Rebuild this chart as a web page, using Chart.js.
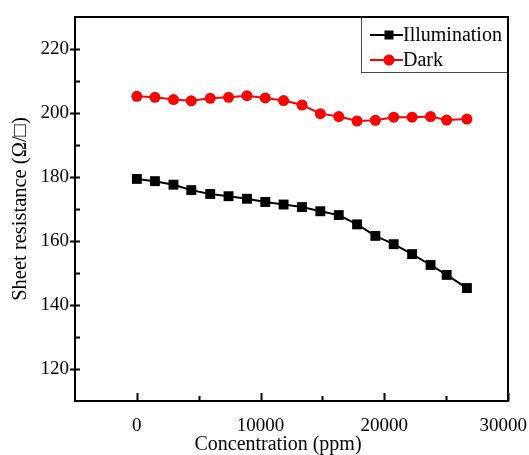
<!DOCTYPE html>
<html lang="en">
<head>
    <meta charset="UTF-8">
    <title>Sheet resistance vs concentration</title>
    <script src="https://cdn.jsdelivr.net/npm/chart.js"></script>
    <style>
        body { margin: 0; background: #fff; overflow: hidden; }
        #wrap { width: 529px; height: 455px; }
        canvas { display: block; }
    </style>
</head>
<body>
    <div id="wrap"><canvas id="resChart" width="529" height="455"></canvas></div>
    <script>
        // concentration (ppm)
        const concentration = [0, 1460, 2960, 4400, 5930, 7410, 8900, 10380, 11860, 13350,
                               14830, 16320, 17800, 19280, 20760, 22250, 23740, 25040, 26680];
        const illumination = [179.4, 178.7, 177.6, 175.9, 174.7, 174.0, 173.2, 172.2, 171.4, 170.6,
                              169.3, 168.1, 165.2, 161.6, 159.0, 155.9, 152.5, 149.4, 145.3];
        const dark = [205.2, 204.9, 204.2, 203.8, 204.6, 204.9, 205.4, 204.7, 203.9, 202.5,
                      199.8, 198.9, 197.5, 197.7, 198.7, 198.7, 198.9, 197.8, 198.1];

        const xTicks = [0, 10000, 20000, 30000];
        const xMinorTicks = [5000, 15000, 25000];
        const yTicks = [120, 140, 160, 180, 200, 220];
        const yMinorTicks = [130, 150, 170, 190, 210];

        const serif = "'Liberation Serif', 'Times New Roman', serif";

        function pts(ys) {
            return concentration.map((x, i) => ({ x: x, y: ys[i] }));
        }

        // frame, inward ticks, x labels + title and the boxed legend
        const decorations = {
            id: 'decorations',
            afterDraw(chart) {
                const ctx = chart.ctx;
                const a = chart.chartArea;
                const xs = chart.scales.x, ys = chart.scales.y;
                const W = chart.width;
                ctx.save();

                ctx.strokeStyle = '#000';
                ctx.lineWidth = 1;
                ctx.beginPath();
                xTicks.forEach(v => {
                    const px = Math.round(xs.getPixelForValue(v)) + 0.5;
                    ctx.moveTo(px, a.bottom); ctx.lineTo(px, a.bottom - 8);
                });
                xMinorTicks.forEach(v => {
                    const px = Math.round(xs.getPixelForValue(v)) + 0.5;
                    ctx.moveTo(px, a.bottom); ctx.lineTo(px, a.bottom - 5);
                });
                yTicks.forEach(v => {
                    const py = Math.round(ys.getPixelForValue(v)) + 0.5;
                    ctx.moveTo(a.left - 5, py); ctx.lineTo(a.left + 5, py);
                });
                yMinorTicks.forEach(v => {
                    const py = Math.round(ys.getPixelForValue(v)) + 0.5;
                    ctx.moveTo(a.left, py); ctx.lineTo(a.left + 5, py);
                });
                ctx.lineWidth = 2;
                ctx.stroke();

                // x tick labels (last one kept inside the canvas like the original)
                ctx.fillStyle = '#000';
                ctx.font = '19px ' + serif;
                ctx.textBaseline = 'middle';
                xTicks.forEach(v => {
                    const label = String(v);
                    const w = ctx.measureText(label).width;
                    let cx = xs.getPixelForValue(v);
                    cx = Math.min(cx, W - 2 - w / 2);
                    ctx.textAlign = 'center';
                    ctx.fillText(label, cx, 426);
                });

                // x axis title, sits a bit left of centre in the original
                ctx.font = '20px ' + serif;
                ctx.textAlign = 'center';
                ctx.fillText('Concentration (ppm)', 278, 445);

                // legend box in the top right corner
                const bx = 361, by = a.top, bw = a.right - bx, bh = 55;
                ctx.fillStyle = '#fff';
                ctx.fillRect(bx, by, bw, bh);
                ctx.lineWidth = 1;
                ctx.strokeStyle = '#444';
                ctx.strokeRect(bx + 0.5, by + 0.5, bw, bh);

                chart.data.datasets.forEach((ds, i) => {
                    const cy = by + 18 + i * 25;
                    ctx.strokeStyle = ds.borderColor;
                    ctx.lineWidth = 2;
                    ctx.beginPath();
                    ctx.moveTo(370, cy); ctx.lineTo(403, cy);
                    ctx.stroke();
                    ctx.fillStyle = ds.backgroundColor;
                    if (ds.pointStyle === 'rect') {
                        ctx.fillRect(389 - 4.5, cy - 4.5, 9, 9);
                    } else {
                        ctx.beginPath();
                        ctx.arc(389, cy, 5.5, 0, Math.PI * 2);
                        ctx.fill();
                    }
                    ctx.fillStyle = '#000';
                    ctx.textAlign = 'left';
                    ctx.font = '20px ' + serif;
                    ctx.fillText(ds.label, 403, cy + 1);
                });

                // plot frame
                ctx.lineWidth = 2;
                ctx.strokeStyle = '#000';
                ctx.strokeRect(a.left, a.top, a.right - a.left, a.bottom - a.top);
                ctx.restore();
            }
        };

        new Chart(document.getElementById('resChart'), {
            type: 'scatter',
            data: {
                datasets: [{
                    label: 'Illumination',
                    data: pts(illumination),
                    showLine: true,
                    borderColor: '#000',
                    backgroundColor: '#000',
                    borderWidth: 2,
                    pointStyle: 'rect',
                    pointRadius: 7,
                    pointBorderWidth: 0
                }, {
                    label: 'Dark',
                    data: pts(dark),
                    showLine: true,
                    borderColor: '#ff0000',
                    backgroundColor: '#ff0000',
                    borderWidth: 2,
                    pointStyle: 'circle',
                    pointRadius: 5.5,
                    pointBorderWidth: 0
                }]
            },
            options: {
                responsive: false,
                animation: false,
                layout: { padding: { top: 17, right: 21, left: 0, bottom: 0 } },
                plugins: {
                    legend: { display: false },
                    tooltip: { enabled: false }
                },
                scales: {
                    x: {
                        type: 'linear',
                        min: -5000,
                        max: 30000,
                        afterFit: s => { s.height = 54; s.paddingLeft = 0; s.paddingRight = 0; },
                        afterBuildTicks: s => { s.ticks = xTicks.map(v => ({ value: v })); },
                        grid: { display: false, drawTicks: false },
                        border: { display: false },
                        ticks: { display: false }
                    },
                    y: {
                        min: 110,
                        max: 230,
                        afterFit: s => { s.width = 75; s.paddingTop = 0; s.paddingBottom = 0; },
                        afterBuildTicks: s => { s.ticks = yTicks.map(v => ({ value: v })); },
                        grid: { display: false, drawTicks: false },
                        border: { display: false },
                        ticks: {
                            padding: 6,
                            color: '#000',
                            font: { family: serif, size: 19 },
                            callback: v => String(v)
                        },
                        title: {
                            display: true,
                            text: 'Sheet resistance (\u03A9/\u25A1)',
                            color: '#000',
                            font: { family: serif, size: 20.5 },
                            padding: { top: 8, bottom: 0 }
                        }
                    }
                }
            },
            plugins: [decorations]
        });
    </script>
</body>
</html>
